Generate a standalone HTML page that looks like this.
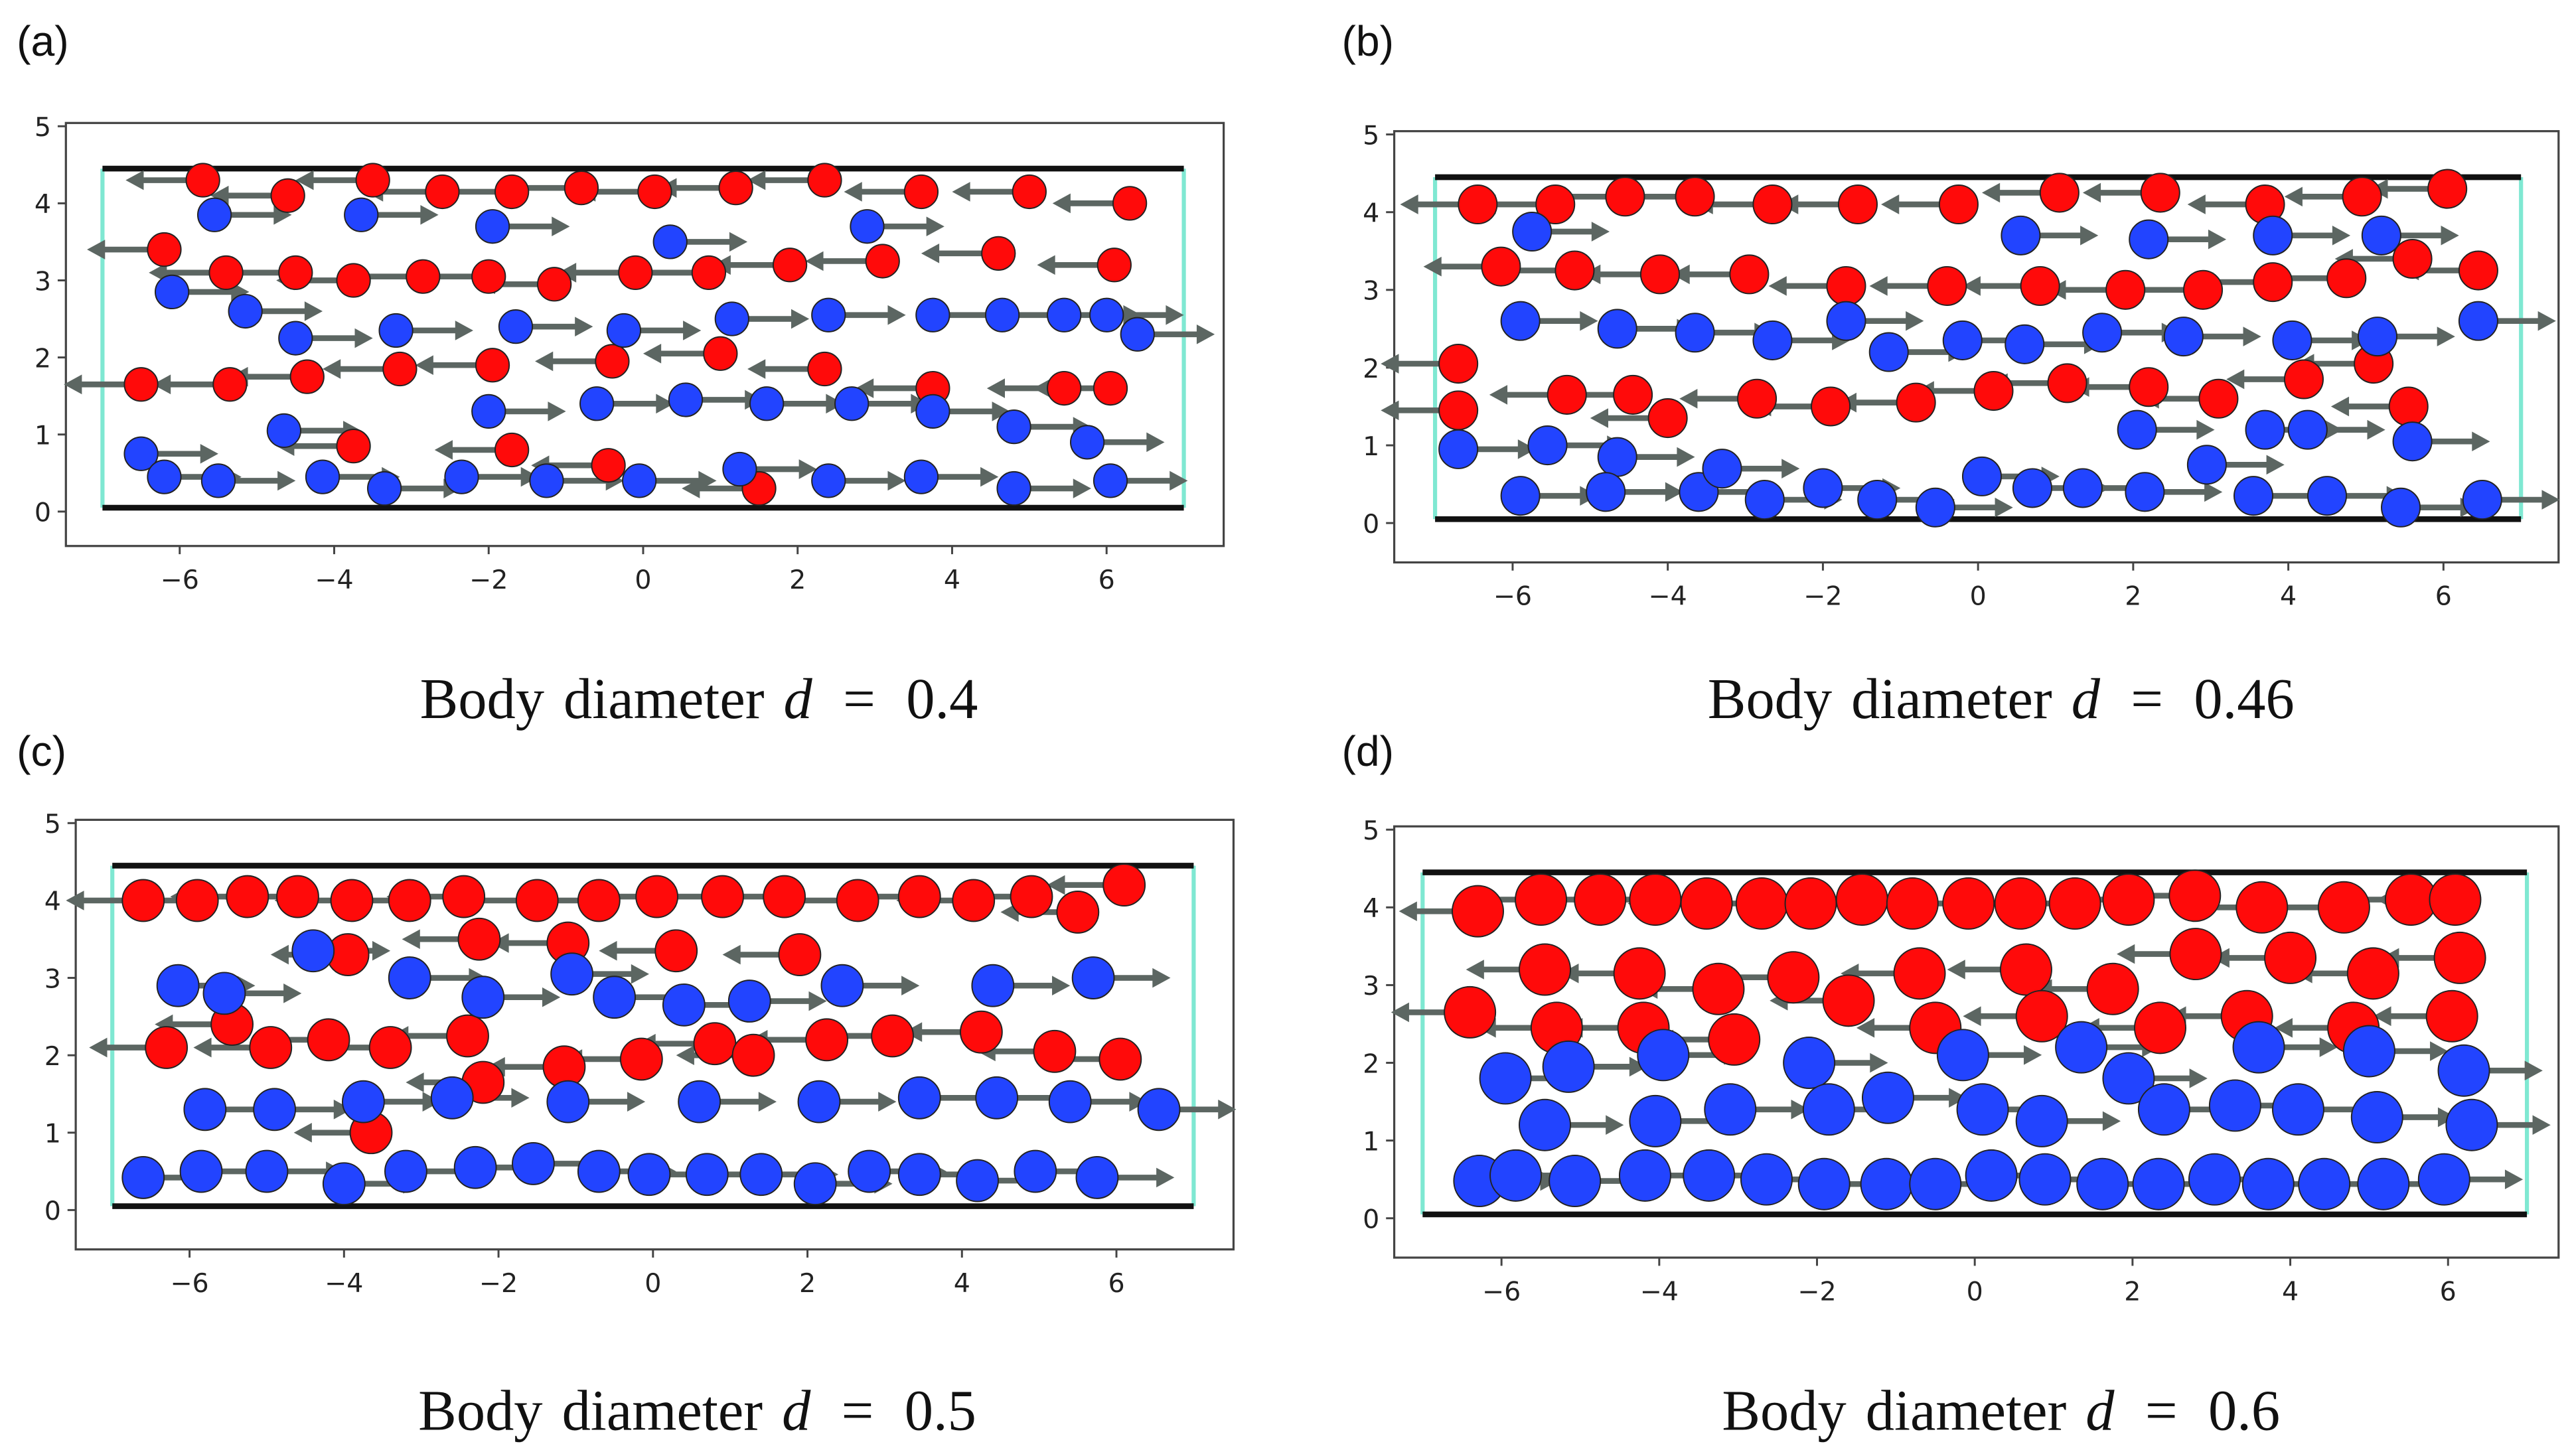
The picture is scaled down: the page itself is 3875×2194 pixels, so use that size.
<!DOCTYPE html>
<html><head><meta charset="utf-8"><style>
html,body{margin:0;padding:0;background:#fff;}
svg{display:block;}
.tick{font-family:"DejaVu Sans","Liberation Sans",sans-serif;font-size:16px;fill:#222;}
.cap{font-family:"Liberation Serif",serif;font-size:35px;fill:#111;word-spacing:3px;}
.lab{font-family:"Liberation Sans",sans-serif;font-size:26px;fill:#111;}
</style></head><body>
<svg id="fig" width="3875" height="2194" viewBox="0 0 1568 888">
<g id="root"></g>
</svg>
<script>
// ---- data ----
const diameters = [0.4, 0.46, 0.5, 0.6];
const panelLabels = ["(a)", "(b)", "(c)", "(d)"];
const captionValues = ["0.4", "0.46", "0.5", "0.6"];
const xTicks = [-6, -4, -2, 0, 2, 4, 6];
const yTicks = [0, 1, 2, 3, 4, 5];

const aRedX = [-5.7,-4.6,-3.5,-2.6,-1.7,-0.8,0.15,1.2,2.35,3.6,5.0,6.3,-6.2,-5.4,-4.5,-3.75,-2.85,-2.0,-1.15,-0.1,0.85,1.9,3.1,4.6,6.1,-6.5,-5.35,-4.35,-3.15,-1.95,-0.4,1.0,2.35,3.75,5.45,6.05,-3.75,-1.7,-0.45,1.5];
const aRedY = [4.3,4.1,4.3,4.15,4.15,4.2,4.15,4.2,4.3,4.15,4.15,4.0,3.4,3.1,3.1,3.0,3.05,3.05,2.95,3.1,3.1,3.2,3.25,3.35,3.2,1.65,1.65,1.75,1.85,1.9,1.95,2.05,1.85,1.6,1.6,1.6,0.85,0.8,0.6,0.3];
const aBlueX = [-5.55,-3.65,-1.95,0.35,2.9,-6.1,-5.15,-4.5,-3.2,-1.65,-0.25,1.15,2.4,3.75,4.65,5.45,6.0,6.4,-2.0,-0.6,0.55,1.6,2.7,3.75,4.8,5.75,-4.65,-6.5,-6.2,-5.5,-4.15,-3.35,-2.35,-1.25,-0.05,1.25,2.4,3.6,4.8,6.05];
const aBlueY = [3.85,3.85,3.7,3.5,3.7,2.85,2.6,2.25,2.35,2.4,2.35,2.5,2.55,2.55,2.55,2.55,2.55,2.3,1.3,1.4,1.45,1.4,1.4,1.3,1.1,0.9,1.05,0.75,0.45,0.4,0.45,0.3,0.45,0.4,0.4,0.55,0.4,0.45,0.3,0.4];

const bRedX = [-6.45,-5.45,-4.55,-3.65,-2.65,-1.55,-0.25,1.05,2.35,3.7,4.95,6.05,-6.15,-5.2,-4.1,-2.95,-1.7,-0.4,0.8,1.9,2.9,3.8,4.75,5.6,6.45,-6.7,-6.7,-5.3,-4.45,-4.0,-2.85,-1.9,-0.8,0.2,1.15,2.2,3.1,4.2,5.1,5.55];
const bRedY = [4.1,4.1,4.2,4.2,4.1,4.1,4.1,4.25,4.25,4.1,4.2,4.3,3.3,3.25,3.2,3.2,3.05,3.05,3.05,3.0,3.0,3.1,3.15,3.4,3.25,2.05,1.45,1.65,1.65,1.35,1.6,1.5,1.55,1.7,1.8,1.75,1.6,1.85,2.05,1.5];
const bBlueX = [-5.75,0.55,2.2,3.8,5.2,-5.9,-4.65,-3.65,-2.65,-1.7,-1.15,-0.2,0.6,1.6,2.65,4.05,5.15,6.45,-6.7,-5.55,-4.65,2.05,3.7,5.6,4.25,-5.9,-4.8,-3.6,-3.3,-2.75,-2.0,-1.3,-0.55,0.05,0.7,1.35,2.15,2.95,3.55,4.5,5.45,6.5];
const bBlueY = [3.75,3.7,3.65,3.7,3.7,2.6,2.5,2.45,2.35,2.6,2.2,2.35,2.3,2.45,2.4,2.35,2.4,2.6,0.95,1.0,0.85,1.2,1.2,1.05,1.2,0.35,0.4,0.4,0.7,0.3,0.45,0.3,0.2,0.6,0.45,0.45,0.4,0.75,0.35,0.35,0.2,0.3];

const cRedX = [-6.6,-5.9,-5.25,-4.6,-3.9,-3.15,-2.45,-1.5,-0.7,0.05,0.9,1.7,2.65,3.45,4.15,4.9,5.5,6.1,-3.95,-2.25,-1.1,0.3,1.9,-5.45,-6.3,-4.95,-4.2,-3.4,-2.4,-2.2,-1.15,-0.15,0.8,1.3,2.25,3.1,4.25,5.2,6.05,-3.65];
const cRedY = [4.0,4.0,4.05,4.05,4.0,4.0,4.05,4.0,4.0,4.05,4.05,4.05,4.0,4.05,4.0,4.05,3.85,4.2,3.3,3.5,3.45,3.35,3.3,2.4,2.1,2.1,2.2,2.1,2.25,1.65,1.85,1.95,2.15,2.0,2.2,2.25,2.3,2.05,1.95,1.0];
const cBlueX = [-4.4,-6.15,-5.55,-3.15,-2.2,-1.05,-0.5,0.4,1.25,2.45,4.4,5.7,-5.8,-4.9,-3.75,-2.6,-1.1,0.6,2.15,3.45,4.45,5.4,6.55,-6.6,-5.85,-5.0,-4.0,-3.2,-2.3,-1.55,-0.7,-0.05,0.7,1.4,2.1,2.8,3.45,4.2,4.95,5.75];
const cBlueY = [3.35,2.9,2.8,3.0,2.75,3.05,2.75,2.65,2.7,2.9,2.9,3.0,1.3,1.3,1.4,1.45,1.4,1.4,1.4,1.45,1.45,1.4,1.3,0.42,0.5,0.5,0.34,0.5,0.55,0.6,0.5,0.46,0.46,0.46,0.34,0.5,0.46,0.38,0.5,0.42];

const dRedX = [-6.3,-5.5,-4.75,-4.05,-3.4,-2.7,-2.08,-1.43,-0.79,-0.08,0.58,1.27,1.95,2.79,3.64,4.68,5.53,6.09,-5.45,-4.25,-3.25,-2.3,-1.6,-0.7,0.65,1.75,2.8,4.0,5.05,6.15,-6.4,-5.3,-4.2,-3.05,-0.5,0.85,2.35,3.45,4.8,6.05];
const dRedY = [3.95,4.1,4.1,4.1,4.05,4.05,4.05,4.1,4.05,4.05,4.05,4.05,4.1,4.15,4.0,4.0,4.1,4.1,3.2,3.15,2.95,3.1,2.8,3.15,3.2,2.95,3.4,3.35,3.15,3.35,2.65,2.45,2.45,2.3,2.45,2.6,2.45,2.6,2.45,2.6];
const dBlueX = [-5.95,-5.15,-3.95,-2.1,-0.15,1.35,1.95,3.6,5.0,6.2,-5.45,-4.05,-3.1,-1.85,-1.1,0.1,0.85,2.4,3.3,4.1,5.1,6.3,-6.28,-5.82,-5.07,-4.18,-3.37,-2.64,-1.91,-1.12,-0.5,0.21,0.89,1.62,2.33,3.04,3.72,4.43,5.18,5.95];
const dBlueY = [1.8,1.95,2.1,2.0,2.1,2.2,1.8,2.2,2.15,1.9,1.2,1.25,1.4,1.4,1.55,1.4,1.25,1.4,1.45,1.4,1.3,1.2,0.48,0.55,0.48,0.55,0.55,0.5,0.44,0.44,0.44,0.55,0.5,0.44,0.44,0.5,0.44,0.44,0.44,0.5];

// ---- layout (pixel geometry, not data) ----
const layouts = [
 {bx:40,by:75,bw:706,bh:258,x0:392,xs:47.1,y0:312,ys:47.0,lx:10,ly:34,cx:426,cy:438},
 {bx:850,by:80,bw:710,bh:263,x0:1206,xs:47.3,y0:319,ys:47.4,lx:818,ly:34,cx:1220,cy:438},
 {bx:46,by:500,bw:706,bh:262,x0:398,xs:47.1,y0:738,ys:47.2,lx:10,ly:467,cx:425,cy:872},
 {bx:850,by:504,bw:710,bh:263,x0:1204,xs:48.1,y0:743,ys:47.4,lx:818,ly:467,cx:1220,cy:872}
];
const redXs=[aRedX,bRedX,cRedX,dRedX], redYs=[aRedY,bRedY,cRedY,dRedY];
const blueXs=[aBlueX,bBlueX,cBlueX,dBlueX], blueYs=[aBlueY,bBlueY,cBlueY,dBlueY];

const NS="http://www.w3.org/2000/svg";
const root=document.getElementById('root');
function mk(tag,attrs,parent){const e=document.createElementNS(NS,tag);for(const k in attrs)e.setAttribute(k,attrs[k]);parent.appendChild(e);return e;}

layouts.forEach((L,i)=>{
  const X=v=>L.x0+v*L.xs, Y=v=>L.y0-v*L.ys;
  const g=mk('g',{},root);
  
  
  const lab=mk('text',{x:L.lx,y:L.ly,class:'lab'},g);lab.textContent=panelLabels[i];
  
  
  const frame=mk('rect',{x:L.bx,y:L.by,width:L.bw,height:L.bh,fill:'#fff',stroke:'#444','stroke-width':1.3},g);
  
  
  xTicks.forEach(t=>{
    mk('line',{x1:X(t),x2:X(t),y1:L.by+L.bh,y2:L.by+L.bh+5,stroke:'#444','stroke-width':1.2},g);
    const tx=mk('text',{x:X(t),y:L.by+L.bh+26,class:'tick','text-anchor':'middle'},g);
    tx.textContent=(t<0?'\u2212'+(-t):t);
    
    
  });
  yTicks.forEach(t=>{
    mk('line',{x1:L.bx-5,x2:L.bx,y1:Y(t),y2:Y(t),stroke:'#444','stroke-width':1.2},g);
    const ty=mk('text',{x:L.bx-9,y:Y(t)+6,class:'tick','text-anchor':'end'},g);
    ty.textContent=t;
    
    
  });
  [-7,7].forEach(v=>{
    const s=mk('line',{x1:X(v),x2:X(v),y1:Y(0.05),y2:Y(4.45),stroke:'#7fe8d2','stroke-width':2.5},g);
    
    
  });
  [0.05,4.45].forEach(v=>{
    const w=mk('line',{x1:X(-7),x2:X(7),y1:Y(v),y2:Y(v),stroke:'#111','stroke-width':3.5},g);
    
    
  });
  const r=diameters[i]/2*1.08;
  const arrowG=mk('g',{},g);
  const bodyG=mk('g',{},g);
  function drawSet(xs,ys,color,dir,name){
    xs.forEach((x,k)=>{
      const y=ys[k];
      const x1=X(x),y1=Y(y),x2=X(x+dir*1.0),y2=y1;
      const a=mk('line',{x1:x1,y1:y1,x2:x2-dir*8,y2:y2,stroke:'#5c6662','stroke-width':3.5},arrowG);
      
      
      const h=mk('polygon',{points:`${x2},${y2} ${x2-dir*11},${y2-6} ${x2-dir*11},${y2+6}`,fill:'#5c6662'},arrowG);
      
      
      const c=mk('circle',{cx:x1,cy:y1,r:r*L.xs,fill:color,stroke:'#222','stroke-width':0.8},bodyG);
      
      
    });
  }
  drawSet(redXs[i],redYs[i],'#ff0a0a',-1,'red-body');
  drawSet(blueXs[i],blueYs[i],'#2244ff',1,'blue-body');
  const cap=mk('text',{x:L.cx,y:L.cy,class:'cap','text-anchor':'middle'},g);
  
  
  const t1=mk('tspan',{},cap);t1.textContent='Body diameter ';
  const t2=mk('tspan',{'font-style':'italic'},cap);t2.textContent='d';
  const t3=mk('tspan',{},cap);t3.textContent=' \u2009=\u2009 '+captionValues[i];
});
</script>
</body></html>
